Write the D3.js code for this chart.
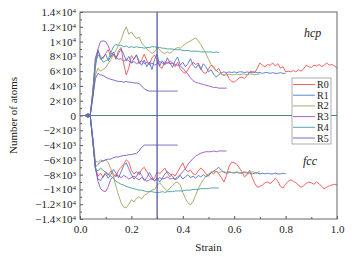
<!DOCTYPE html>
<html>
<head>
<meta charset="utf-8">
<script src="https://cdn.jsdelivr.net/npm/d3@7"></script>
<style>
  body { margin: 0; background: #fff; }
</style>
</head>
<body>
<div id="chart"></div>
<script>
// strain grid, step 0.01 (0.00 .. 1.00)
var strain = [0,0.01,0.02,0.03,0.04,0.05,0.06,0.07,0.08,0.09,0.1,0.11,0.12,0.13,0.14,0.15,0.16,0.17,0.18,0.19,
  0.2,0.21,0.22,0.23,0.24,0.25,0.26,0.27,0.28,0.29,0.3,0.31,0.32,0.33,0.34,0.35,0.36,0.37,0.38,0.39,
  0.4,0.41,0.42,0.43,0.44,0.45,0.46,0.47,0.48,0.49,0.5,0.51,0.52,0.53,0.54,0.55,0.56,0.57,0.58,0.59,
  0.6,0.61,0.62,0.63,0.64,0.65,0.66,0.67,0.68,0.69,0.7,0.71,0.72,0.73,0.74,0.75,0.76,0.77,0.78,0.79,
  0.8,0.81,0.82,0.83,0.84,0.85,0.86,0.87,0.88,0.89,0.9,0.91,0.92,0.93,0.94,0.95,0.96,0.97,0.98,0.99,1];

// number of atoms, in thousands (hcp positive, fcc negative)
var hcpR0 = [0,0,0,0.2,0.1,3.5,7.6,8.7,8.0,7.7,8.4,8.9,7.9,8.3,7.6,8.8,9.2,7.0,5.5,6.4,
  8.1,7.6,8.2,7.0,7.5,8.3,7.4,6.9,7.8,8.2,7.5,6.6,6.4,7.3,7.0,7.4,7.1,6.6,7.2,6.3,
  5.9,5.7,6.2,6.8,7.2,6.9,7.1,6.4,5.8,5.7,6.3,6.8,6.6,6.0,6.4,5.6,5.4,5.7,5.0,4.6,
  4.5,4.8,5.1,5.2,5.0,5.4,5.9,6.0,5.8,6.4,7.1,6.8,6.6,6.9,6.8,7.1,6.7,7.0,6.4,6.6,
  5.9,6.0,5.9,6.1,5.9,6.2,6.0,6.3,6.8,6.6,6.5,6.8,6.7,6.9,6.6,6.8,7.1,6.8,6.9,6.7,6.4];
var hcpR1 = [0,0,0,0.2,0.1,3.2,7.8,8.9,7.6,7.9,8.3,7.4,8.0,8.6,7.8,8.4,9.0,8.3,7.4,8.0,
  7.1,7.7,8.2,7.3,6.8,7.5,6.6,7.2,6.2,7.6,8.3,6.7,7.4,6.9,7.8,7.1,6.5,7.4,7.9,6.8,
  7.2,6.6,7.0,7.7,6.8,6.4,6.9,6.2,7.0,6.6,5.9,6.2,5.6,5.2,5.5,5.8,5.9,5.8,5.9,5.8,
  5.9,5.8,5.9,5.9,5.8,5.9,5.8,5.8,5.9,5.8,5.8,5.7,5.8,5.8,5.7,5.8,5.7,5.7,5.8,5.7,5.7];
var hcpR2 = [0,0,0,0.2,0.1,2.5,5.5,6.4,6.0,6.2,6.5,7.0,7.6,8.2,8.8,9.6,10.2,11.3,12.0,11.0,
  11.3,10.8,10.4,10.6,9.8,9.4,9.0,8.7,8.4,8.6,9.2,8.9,8.5,8.4,8.6,8.4,8.7,9.0,9.2,9.1,
  9.4,9.7,9.9,10.1,10.3,10.5,10.1,9.6,9.0,8.4,7.6,6.9,6.4,6.1,5.8,5.6,5.5,5.5,5.6,5.5,
  5.5,5.6,5.5,5.6,5.6,5.5,5.6,5.6,5.5,5.6,5.6];
var hcpR3 = [0,0,0,0.2,0.1,2.8,6.5,9.0,10.0,10.1,10.0,9.4,8.5,8.2,7.9,7.6,7.7,7.3,7.6,7.4,
  7.1,7.3,7.0,7.2,7.4,7.0,7.2,6.9,7.1,6.8,7.0,7.3,7.1,6.9,7.2,7.0,7.1,6.9,6.8,6.7,
  6.4,6.0,5.6,5.1,4.7,4.5,4.4,4.3,4.2,4.1,4.0,3.9,3.8,3.8,3.7,3.7,3.7,3.7];
var hcpR4 = [0,0,0,0.2,0.1,3.0,7.0,8.2,7.8,7.2,7.4,7.6,8.5,9.3,9.6,9.5,9.5,9.3,9.4,9.2,
  9.3,9.2,9.3,9.2,9.2,9.1,9.2,9.2,9.3,9.3,9.2,9.2,9.1,9.1,9.0,9.0,9.0,8.9,8.9,8.9,
  8.8,8.8,8.8,8.7,8.7,8.7,8.7,8.6,8.6,8.6,8.6,8.6,8.5,8.6,8.5];
var hcpR5 = [0,0,0,0.2,0.1,2.5,5.0,5.7,5.5,5.4,5.2,5.0,4.9,4.8,4.7,4.6,4.6,4.5,4.6,4.5,
  4.5,4.4,4.4,4.3,4.0,3.6,3.4,3.3,3.3,3.3,3.3,3.3,3.3,3.3,3.3,3.3,3.3,3.3,3.3];

var fccR0 = [0,0,0,-0.2,-0.1,-3.8,-7.0,-8.2,-7.8,-8.4,-7.6,-8.1,-7.5,-7.9,-8.3,-7.4,-7.0,-6.6,-6.0,-6.3,
  -7.4,-7.9,-7.6,-8.0,-7.3,-7.0,-7.6,-8.2,-8.7,-8.5,-7.6,-7.9,-7.5,-7.1,-7.8,-8.3,-7.9,-8.2,-7.6,-7.0,
  -6.4,-7.3,-7.6,-7.4,-7.9,-8.0,-7.5,-7.1,-7.4,-7.9,-8.2,-7.6,-7.9,-7.5,-7.9,-8.4,-9.0,-8.1,-6.9,-6.3,
  -6.4,-6.6,-7.1,-7.6,-8.3,-8.0,-7.4,-8.4,-9.2,-9.7,-9.6,-9.4,-9.1,-9.0,-9.2,-8.9,-8.5,-8.9,-9.6,-9.8,
  -9.3,-8.9,-8.7,-8.9,-9.1,-9.4,-9.7,-9.5,-9.2,-9.0,-9.1,-9.3,-9.0,-9.2,-9.6,-9.9,-9.7,-9.5,-9.4,-9.3,-9.4];
var fccR1 = [0,0,0,-0.2,-0.1,-3.3,-7.2,-8.6,-8.8,-8.2,-7.9,-8.5,-8.0,-7.3,-7.8,-8.4,-7.6,-6.8,-6.4,-7.2,
  -8.0,-8.6,-8.2,-7.6,-8.1,-8.8,-8.4,-7.7,-8.3,-8.9,-8.4,-9.0,-8.5,-7.9,-7.6,-7.9,-8.2,-8.7,-8.5,-8.1,
  -8.6,-8.3,-8.0,-8.4,-8.2,-8.5,-8.1,-8.3,-8.0,-8.3,-8.1,-7.8,-7.5,-7.3,-7.0,-7.4,-7.7,-7.8,-7.7,-7.7,
  -7.8,-7.7,-7.8,-7.8,-7.7,-7.8,-7.8,-7.9,-7.8,-7.8,-7.9,-7.8,-7.9,-7.8,-7.9,-7.9,-7.8,-7.9,-7.9,-7.8,-7.9];
var fccR2 = [0,0,0,-0.2,-0.1,-3.0,-6.2,-6.3,-6.0,-6.2,-6.0,-6.4,-7.2,-8.2,-9.6,-10.8,-11.8,-12.4,-12.5,-12.0,
  -11.4,-11.7,-11.2,-11.0,-11.3,-10.8,-10.6,-10.3,-10.1,-10.0,-9.5,-9.1,-9.5,-9.9,-10.2,-9.8,-9.5,-9.1,-9.0,-9.4,
  -10.4,-11.2,-11.8,-12.1,-11.6,-10.8,-9.9,-9.2,-8.7,-8.2,-7.9,-7.7,-7.6,-7.6,-7.7,-7.6,-7.6,-7.7,-7.6,-7.7,
  -7.7,-7.6,-7.7,-7.7,-7.6,-7.7,-7.7,-7.6,-7.7,-7.7,-7.6];
var fccR3 = [0,0,0,-0.2,-0.1,-3.2,-7.0,-8.9,-9.9,-10.2,-10.3,-9.6,-8.6,-8.3,-8.0,-8.2,-8.4,-8.1,-8.3,-8.6,
  -8.4,-8.2,-8.5,-8.7,-8.4,-8.6,-8.9,-8.7,-8.5,-8.8,-8.6,-8.4,-8.6,-8.5,-8.3,-8.6,-8.5,-8.6,-8.3,-8.0,
  -7.6,-7.2,-6.6,-6.2,-5.8,-5.5,-5.3,-5.1,-5.0,-4.9,-4.9,-4.9,-4.8,-4.9,-4.8,-4.8,-4.8,-4.8];
var fccR4 = [0,0,0,-0.2,-0.1,-3.5,-7.2,-7.5,-7.1,-7.4,-7.7,-7.9,-8.2,-8.5,-8.9,-9.1,-9.3,-9.4,-9.6,-9.7,
  -9.8,-9.9,-10.0,-10.1,-10.1,-10.2,-10.3,-10.3,-10.3,-10.4,-10.4,-10.4,-10.3,-10.4,-10.3,-10.3,-10.3,-10.2,-10.2,-10.2,
  -10.2,-10.1,-10.1,-10.1,-10.0,-10.0,-10.0,-9.9,-9.9,-9.9,-9.9,-9.8,-9.8,-9.8,-9.8];
var fccR5 = [0,0,0,-0.2,-0.1,-3.4,-7.0,-6.6,-6.3,-6.1,-6.0,-5.9,-5.9,-5.7,-5.6,-5.6,-5.5,-5.4,-5.4,-5.3,
  -5.3,-5.2,-5.1,-4.8,-4.3,-4.0,-4.0,-4.0,-4.0,-4.0,-4.0,-4.0,-4.0,-4.0,-4.0,-4.0,-4.0,-4.0,-4.0];

var names = ["R0", "R1", "R2", "R3", "R4", "R5"];
var colors = ["#f5504f", "#4a76cf", "#a3a362", "#9a52c4", "#3f9f9c", "#6a60c4"];
var hcpSeries = [hcpR0, hcpR1, hcpR2, hcpR3, hcpR4, hcpR5];
var fccSeries = [fccR0, fccR1, fccR2, fccR3, fccR4, fccR5];

var yTicks = [-14, -12, -10, -8, -6, -4, -2, 0, 2, 4, 6, 8, 10, 12, 14];
var xTicks = [0, 0.2, 0.4, 0.6, 0.8, 1.0];
var markStrain = 0.3;

var serif = "'Liberation Serif', 'Times New Roman', Times, serif";

var margin = {top: 12, left: 80},
  width = 257,
  height = 207;

var svg = d3.select("#chart").append("svg").attr("width", 357).attr("height", 257)
  .attr("font-family", serif);
var g = svg.append("g").attr("transform", "translate(" + margin.left + "," + margin.top + ")");

var x = d3.scaleLinear().domain([0, 1]).range([0, width]);
var y = d3.scaleLinear().domain([-14, 14]).range([height, 0]);

// tick label like 1.2×10^4
function sciLabel(sel) {
  sel.each(function(v) {
    var t = d3.select(this).text(null);
    if (v == 0) { t.text("0"); return; }
    var n = Math.abs(v) * 1000;
    var e = Math.floor(Math.log10(n) + 1e-9);
    var m = +(n / Math.pow(10, e)).toFixed(1);
    t.append("tspan").text((v < 0 ? "\u2212" : "") + m + "\u00d710");
    t.append("tspan").attr("dy", "-0.45em").style("font-size", "7px").text(e);
  });
}

// y axis
var yAx = g.append("g").call(d3.axisLeft(y).tickValues(yTicks).tickSize(-3).tickPadding(4).tickFormat(""));
yAx.selectAll(".tick text").call(sciLabel);
g.append("g").call(d3.axisLeft(y).tickValues(d3.range(-13, 14, 2)).tickSize(-2).tickFormat(""));

// x axis
g.append("g").attr("transform", "translate(0," + height + ")")
  .call(d3.axisBottom(x).tickValues(xTicks).tickSize(-3).tickPadding(6).tickFormat(d3.format(".1f")));
g.append("g").attr("transform", "translate(0," + height + ")")
  .call(d3.axisBottom(x).tickValues([0.1, 0.3, 0.5, 0.7, 0.9]).tickSize(-2).tickFormat(""));

g.selectAll(".domain").remove();
g.selectAll("g").attr("font-family", serif);
g.selectAll(".tick line").attr("stroke", "#555");
g.selectAll(".tick text").style("font-size", "11px").attr("fill", "#222");

// zero line and strain marker
g.append("line").attr("x1", 0).attr("x2", width).attr("y1", y(0)).attr("y2", y(0))
  .attr("stroke", "#4e8088").attr("stroke-width", 1);

var line = d3.line()
  .x(function(d, i) { return x(strain[i]); })
  .y(function(d) { return y(d); });

hcpSeries.forEach(function(s, k) {
  g.append("path").datum(s).attr("d", line).attr("fill", "none")
    .attr("stroke", colors[k]).attr("stroke-width", 0.9);
});
fccSeries.forEach(function(s, k) {
  g.append("path").datum(s).attr("d", line).attr("fill", "none")
    .attr("stroke", colors[k]).attr("stroke-width", 0.9);
});

g.append("line").attr("x1", x(markStrain)).attr("x2", x(markStrain)).attr("y1", 0).attr("y2", height)
  .attr("stroke", "#5a5aa6").attr("stroke-width", 1.3);

// frame
g.append("rect").attr("width", width).attr("height", height)
  .attr("fill", "none").attr("stroke", "#666").attr("stroke-width", 1);

// phase labels
g.append("text").attr("x", 224).attr("y", 25).attr("fill", "#222")
  .style("font-style", "italic").style("font-size", "12px").text("hcp");
g.append("text").attr("x", 223).attr("y", 153).attr("fill", "#222")
  .style("font-style", "italic").style("font-size", "12px").text("fcc");

// legend
var leg = g.append("g").attr("transform", "translate(212,66)");
leg.append("rect").attr("width", 39).attr("height", 66).attr("fill", "#fff").attr("stroke", "#999").attr("stroke-width", 0.8);
names.forEach(function(n, k) {
  var ly = 6.5 + k * 10.7;
  leg.append("line").attr("x1", 1).attr("x2", 23).attr("y1", ly).attr("y2", ly)
    .attr("stroke", colors[k]).attr("stroke-width", 0.9);
  leg.append("text").attr("x", 25).attr("y", ly + 3.5).attr("fill", "#222")
    .style("font-size", "10px").text(n);
});

// axis titles
svg.append("text").attr("transform", "translate(17," + (margin.top + y(0)) + ") rotate(-90)")
  .attr("text-anchor", "middle").attr("fill", "#222").style("font-size", "11px").text("Number of atoms");
svg.append("text").attr("x", margin.left + width / 2).attr("y", 251)
  .attr("text-anchor", "middle").attr("fill", "#222").style("font-size", "11px").text("Strain");
</script>
</body>
</html>
